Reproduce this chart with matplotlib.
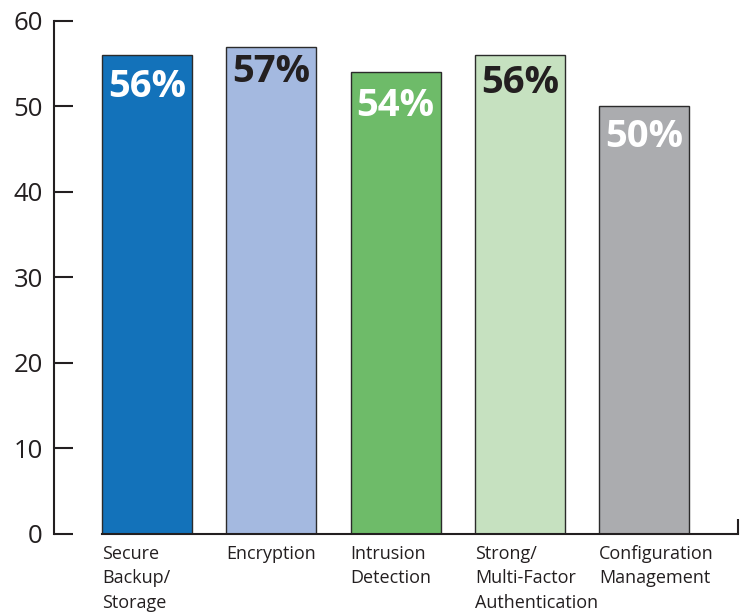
import matplotlib
matplotlib.use("Agg")
import matplotlib.pyplot as plt

plt.rcParams['font.family'] = ['Open Sans', 'DejaVu Sans']

categories = ["Secure\nBackup/\nStorage", "Encryption", "Intrusion\nDetection",
              "Strong/\nMulti-Factor\nAuthentication", "Configuration\nManagement"]
values = [56, 57, 54, 56, 50]
value_labels = ["56%", "57%", "54%", "56%", "50%"]
y_ticks = [0, 10, 20, 30, 40, 50, 60]

bar_colors = ["#1372BA", "#A4B9E0", "#6EBB69", "#C6E1C0", "#ABACAF"]
label_colors = ["white", "#231F20", "white", "#231F20", "white"]
label_drop = [3.7, 3.0, 4.0, 3.3, 3.6]   # distance of each value label below its bar top
text_dark = "#231F20"

fig = plt.figure(figsize=(7.42, 6.14), dpi=100)
ax = fig.add_axes([0.0728, 0.1303, 0.922, 0.8355])

width = 0.724
xs = list(range(len(values)))
ax.bar(xs, values, width=width, color=bar_colors, edgecolor="#2B2B2B", linewidth=1.0, zorder=2)

for x, v, lab, c, d in zip(xs, values, value_labels, label_colors, label_drop):
    ax.text(x, v - d, lab, ha="center", va="center", fontsize=27.5,
            fontweight="bold", color=c, zorder=3)

ax.set_xlim(-0.7485, 4.757)
ax.set_ylim(0, 60)

# y axis: inward ticks on the left spine
ax.set_yticks(y_ticks)
ax.set_yticklabels([str(t) for t in y_ticks], fontsize=18.5, color=text_dark)
ax.tick_params(axis="y", direction="in", length=14, width=1.5, pad=8, color=text_dark)

# x axis: category labels left-aligned under each bar
left_edges = [x - width / 2 for x in xs]
ax.set_xticks(left_edges)
ax.set_xticklabels(categories, fontsize=13, color=text_dark, ha="left",
                   va="top", linespacing=1.45)
ax.tick_params(axis="x", which="major", length=0, pad=8)
for lbl in ax.get_xticklabels():
    lbl.set_x(lbl.get_position()[0])
ax.set_xticks([4.757], minor=True)
ax.tick_params(axis="x", which="minor", direction="in", length=11, width=1.5,
               color=text_dark)

for side in ("top", "right"):
    ax.spines[side].set_visible(False)
ax.spines["left"].set_linewidth(1.5)
ax.spines["left"].set_color(text_dark)
ax.spines["bottom"].set_linewidth(1.5)
ax.spines["bottom"].set_color(text_dark)
ax.spines["bottom"].set_bounds(left_edges[0], 4.757)

fig.savefig("out.png", dpi=100)
